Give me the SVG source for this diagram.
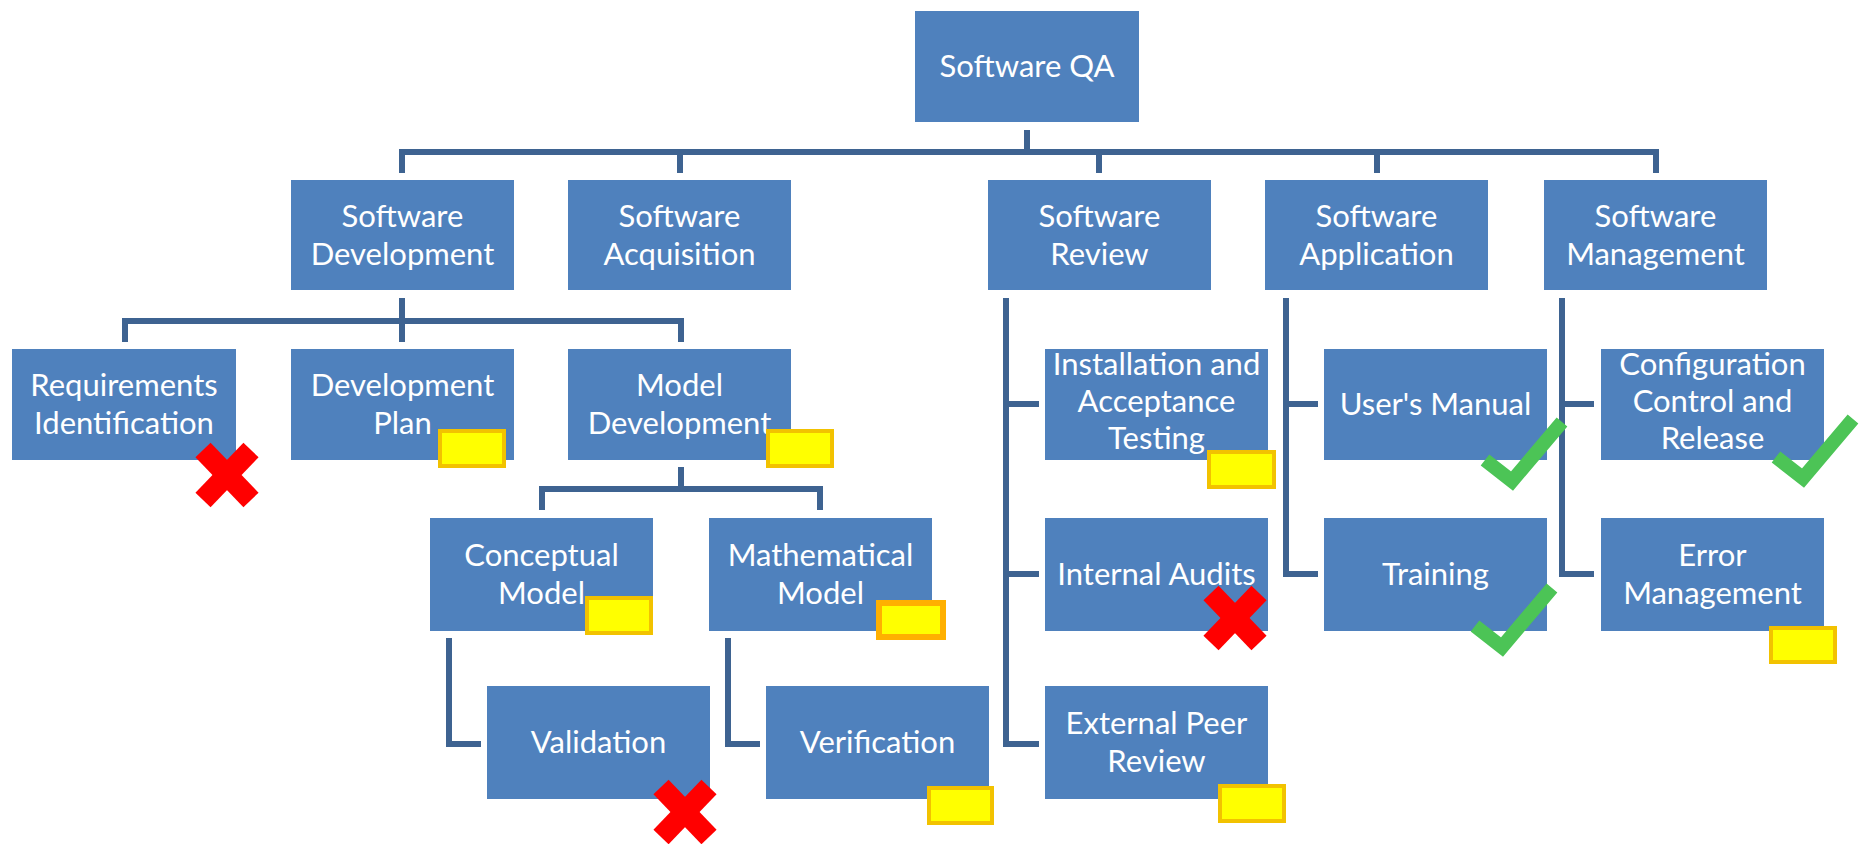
<svg xmlns="http://www.w3.org/2000/svg" xmlns:xlink="http://www.w3.org/1999/xlink" width="1864" height="844" viewBox="0 0 1864 844">
<style>
.box{fill:#4F81BD;}
.lbl{font-family:Lato,"Liberation Sans",sans-serif;font-size:31px;fill:#FFFFFF;text-anchor:middle;}
.conn{fill:none;stroke:#3E6391;stroke-width:6;stroke-linejoin:miter;}
.badge{fill:#FFFF00;stroke:#F2C200;stroke-width:4;}
.badge2{fill:#FFFF00;stroke:#FFB000;stroke-width:6;}
.xm{stroke:#FF0000;stroke-width:21;stroke-linecap:butt;}
.ck{fill:none;stroke:#4CC456;stroke-width:14;stroke-linecap:butt;stroke-linejoin:miter;}
</style>
<defs>
<g id="xmark"><line class="xm" x1="-24" y1="-25" x2="24" y2="25"/><line class="xm" x1="24" y1="-25" x2="-24" y2="25"/></g>
<g id="check"><path class="ck" d="M-27,-30 L0,-9 L50,-68"/></g>
</defs>
<rect width="1864" height="844" fill="#FFFFFF"/>
<g id="connectors">
<path class="conn" d="M1027,130 V152"/>
<path class="conn" d="M402,173 V152 H1656 V173"/>
<path class="conn" d="M680,152 V173 M1099,152 V173 M1377,152 V173"/>
<path class="conn" d="M402,298 V321"/>
<path class="conn" d="M125,342 V321 H681 V342"/>
<path class="conn" d="M402,321 V342"/>
<path class="conn" d="M681,467 V489"/>
<path class="conn" d="M542,510 V489 H820 V510"/>
<path class="conn" d="M449,638 V744 H481"/>
<path class="conn" d="M728,638 V744 H760"/>
<path class="conn" d="M1006,298 V744 H1039 M1006,404 H1039 M1006,574 H1039"/>
<path class="conn" d="M1286,298 V574 H1318 M1286,404 H1318"/>
<path class="conn" d="M1562,298 V574 H1594 M1562,404 H1594"/>
</g>
<g id="qa"><rect class="box" x="915" y="11" width="224" height="111"/><text class="lbl" x="1027" y="77">Software QA</text></g>
<g id="sw-dev"><rect class="box" x="291" y="180" width="223" height="110"/><text class="lbl" x="402.5" y="227">Software</text><text class="lbl" x="402.5" y="265">Development</text></g>
<g id="sw-acq"><rect class="box" x="568" y="180" width="223" height="110"/><text class="lbl" x="679.5" y="227">Software</text><text class="lbl" x="679.5" y="265">Acquisition</text></g>
<g id="sw-rev"><rect class="box" x="988" y="180" width="223" height="110"/><text class="lbl" x="1099.5" y="227">Software</text><text class="lbl" x="1099.5" y="265">Review</text></g>
<g id="sw-app"><rect class="box" x="1265" y="180" width="223" height="110"/><text class="lbl" x="1376.5" y="227">Software</text><text class="lbl" x="1376.5" y="265">Application</text></g>
<g id="sw-mgmt"><rect class="box" x="1544" y="180" width="223" height="110"/><text class="lbl" x="1655.5" y="227">Software</text><text class="lbl" x="1655.5" y="265">Management</text></g>
<g id="req"><rect class="box" x="12" y="349" width="224" height="111"/><text class="lbl" x="124" y="396">Requirements</text><text class="lbl" x="124" y="434">Identification</text></g>
<g id="dev-plan"><rect class="box" x="291" y="349" width="223" height="111"/><text class="lbl" x="402.5" y="396">Development</text><text class="lbl" x="402.5" y="434">Plan</text></g>
<g id="model-dev"><rect class="box" x="568" y="349" width="223" height="111"/><text class="lbl" x="679.5" y="396">Model</text><text class="lbl" x="679.5" y="434">Development</text></g>
<g id="install"><rect class="box" x="1045" y="349" width="223" height="111"/><text class="lbl" x="1156.5" y="375">Installation and</text><text class="lbl" x="1156.5" y="412">Acceptance</text><text class="lbl" x="1156.5" y="449">Testing</text></g>
<g id="users-manual"><rect class="box" x="1324" y="349" width="223" height="111"/><text class="lbl" x="1435.5" y="415">User's Manual</text></g>
<g id="config"><rect class="box" x="1601" y="349" width="223" height="111"/><text class="lbl" x="1712.5" y="375">Configuration</text><text class="lbl" x="1712.5" y="412">Control and</text><text class="lbl" x="1712.5" y="449">Release</text></g>
<g id="conceptual"><rect class="box" x="430" y="518" width="223" height="113"/><text class="lbl" x="541.5" y="566">Conceptual</text><text class="lbl" x="541.5" y="604">Model</text></g>
<g id="mathematical"><rect class="box" x="709" y="518" width="223" height="113"/><text class="lbl" x="820.5" y="566">Mathematical</text><text class="lbl" x="820.5" y="604">Model</text></g>
<g id="internal-audits"><rect class="box" x="1045" y="518" width="223" height="113"/><text class="lbl" x="1156.5" y="585">Internal Audits</text></g>
<g id="training"><rect class="box" x="1324" y="518" width="223" height="113"/><text class="lbl" x="1435.5" y="585">Training</text></g>
<g id="error-mgmt"><rect class="box" x="1601" y="518" width="223" height="113"/><text class="lbl" x="1712.5" y="566">Error</text><text class="lbl" x="1712.5" y="604">Management</text></g>
<g id="validation"><rect class="box" x="487" y="686" width="223" height="113"/><text class="lbl" x="598.5" y="753">Validation</text></g>
<g id="verification"><rect class="box" x="766" y="686" width="223" height="113"/><text class="lbl" x="877.5" y="753">Verification</text></g>
<g id="ext-peer"><rect class="box" x="1045" y="686" width="223" height="113"/><text class="lbl" x="1156.5" y="734">External Peer</text><text class="lbl" x="1156.5" y="772">Review</text></g>
<g id="markers">
<rect class="badge" x="440" y="431" width="64" height="35"/>
<rect class="badge" x="768" y="431" width="64" height="35"/>
<rect class="badge" x="587" y="598" width="64" height="35"/>
<rect class="badge2" x="879" y="603" width="64" height="34"/>
<rect class="badge" x="929" y="788" width="63" height="35"/>
<rect class="badge" x="1209" y="452" width="65" height="35"/>
<rect class="badge" x="1220" y="786" width="64" height="35"/>
<rect class="badge" x="1771" y="628" width="64" height="34"/>
<use xlink:href="#xmark" x="227" y="475"/>
<use xlink:href="#xmark" x="685" y="812"/>
<use xlink:href="#xmark" x="1235" y="618"/>
<use xlink:href="#check" x="1512" y="490"/>
<use xlink:href="#check" x="1803" y="487"/>
<use xlink:href="#check" x="1502" y="656"/>
</g>
</svg>
